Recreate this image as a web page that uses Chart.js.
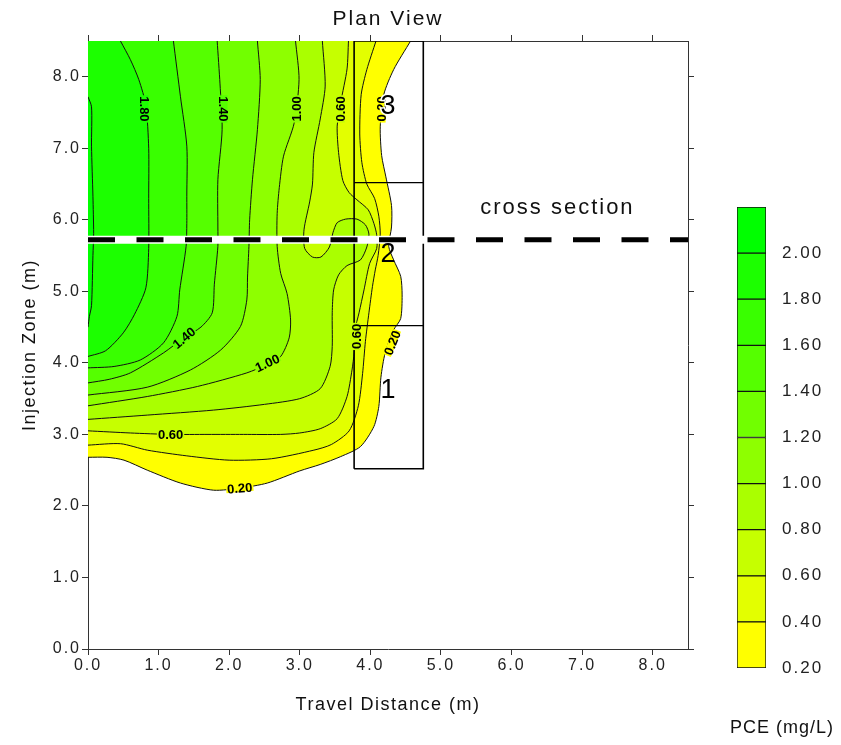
<!DOCTYPE html>
<html>
<head>
<meta charset="utf-8">
<script src="https://cdn.jsdelivr.net/npm/chart.js@4.4.0/dist/chart.umd.min.js"></script>
<style>
body { margin: 0; background: #fff; width: 841px; height: 745px; overflow: hidden; position: relative; }
#plan { position: absolute; left: 0; top: 0; }
#bar { position: absolute; left: 737px; top: 187px; }
</style>
</head>
<body>
<canvas id="plan" width="841" height="745"></canvas>
<canvas id="bar" width="89" height="501"></canvas>
<script>
// contour levels of PCE (mg/L) and the colour of the band above each one
const levels = [0.2, 0.4, 0.6, 0.8, 1.0, 1.2, 1.4, 1.6, 1.8, 2.0]
const bandColors = ['#ffff00', '#e3ff00', '#c6ff00', '#aaff00', '#8eff00', '#71ff00', '#55ff00', '#39ff00', '#1cff00', '#00ff00']

const pce020 = [[4.57,8.5],[4.33,8.1],[4.19,7.75],[4.14,7.3],[4.16,6.9],[4.22,6.6],[4.30,6.2],[4.30,5.9],[4.26,5.63],[4.33,5.44],[4.43,5.21],[4.45,4.95],[4.43,4.62],[4.33,4.46],[4.21,4.14],[4.15,3.8],[4.12,3.39],[4.05,3.11],[3.86,2.83],[3.58,2.69],[3.29,2.58],[3.0,2.49],[2.54,2.32],[2.16,2.25],[1.78,2.22],[1.31,2.32],[0.84,2.50],[0.51,2.64],[0.27,2.68],[0,2.68]]
const pce040 = [[4.08,8.5],[3.95,8.1],[3.87,7.75],[3.85,7.2],[3.88,6.8],[3.95,6.5],[4.06,6.3],[4.12,6.05],[4.14,5.8],[4.11,5.5],[4.07,5.3],[4.03,5.07],[3.98,4.7],[3.93,4.3],[3.89,3.85],[3.83,3.4],[3.70,3.05],[3.45,2.86],[3.20,2.78],[2.6,2.66],[2.0,2.64],[1.4,2.7],[0.84,2.78],[0.46,2.87],[0,2.85]]
const pce060 = [[3.69,8.5],[3.67,8.11],[3.58,7.64],[3.53,7.31],[3.55,6.94],[3.61,6.55],[3.70,6.38],[3.81,6.28],[3.97,6.14],[4.05,5.95],[4.09,5.79],[4.09,5.6],[3.99,5.39],[3.91,5.02],[3.84,4.70],[3.78,4.45],[3.77,4.14],[3.74,3.9],[3.67,3.53],[3.53,3.22],[3.29,3.08],[3.0,3.02],[2.73,3.0],[2.2,3.0],[1.7,3.0],[1.17,3.0],[0.6,3.02],[0,3.05]]
const pce080 = [[3.32,8.5],[3.36,7.87],[3.29,7.41],[3.20,6.94],[3.18,6.5],[3.14,6.25],[3.06,5.86],[3.07,5.6],[3.18,5.48],[3.30,5.48],[3.42,5.62],[3.47,5.82],[3.53,5.96],[3.65,6.01],[3.81,6.01],[3.93,5.93],[3.98,5.8],[3.95,5.62],[3.86,5.44],[3.67,5.36],[3.55,5.23],[3.48,5.02],[3.46,4.70],[3.46,4.23],[3.43,3.95],[3.29,3.64],[3.0,3.5],[2.5,3.42],[1.78,3.34],[0.84,3.27],[0,3.21]]
const pce100 = [[2.94,8.5],[2.99,7.96],[2.92,7.35],[2.77,6.89],[2.71,6.45],[2.68,6.09],[2.68,5.63],[2.73,5.25],[2.82,4.97],[2.87,4.6],[2.85,4.35],[2.73,4.09],[2.54,3.98],[2.25,3.86],[1.55,3.67],[0.84,3.53],[0,3.40]]
const pce120 = [[2.40,8.5],[2.44,7.96],[2.40,7.26],[2.33,6.56],[2.29,6.0],[2.28,5.63],[2.26,5.2],[2.25,4.88],[2.16,4.51],[1.88,4.18],[1.45,3.90],[0.84,3.66],[0,3.55]]
const pce140 = [[1.83,8.5],[1.87,7.9],[1.90,7.26],[1.84,6.56],[1.84,5.9],[1.84,5.63],[1.79,5.1],[1.76,4.7],[1.60,4.5],[1.36,4.35],[1.07,4.14],[0.60,3.86],[0.3,3.77],[0,3.72]]
const pce160 = [[1.21,8.5],[1.31,7.72],[1.40,7.03],[1.40,6.33],[1.40,5.95],[1.39,5.63],[1.30,5.02],[1.26,4.65],[1.07,4.28],[0.74,4.04],[0.37,3.95],[0,3.93]]
const pce180 = [[0.46,8.5],[0.60,8.24],[0.72,7.96],[0.82,7.6],[0.86,7.0],[0.86,6.3],[0.86,5.6],[0.82,5.05],[0.66,4.68],[0.50,4.42],[0.25,4.17],[0,4.09]]
const pce200 = [[0,7.72],[0.05,7.58],[0.05,7.03],[0.07,6.33],[0.08,5.81],[0.07,5.5],[0.05,4.8],[0.02,4.65],[0,4.5]]
const contourLines = [pce020, pce040, pce060, pce080, pce100, pce120, pce140, pce160, pce180, pce200]

// contour labels
const labelText  = ['1.80', '1.40', '1.00', '0.60', '0.20', '1.40', '1.00', '0.60', '0.20', '0.60', '0.20']
const labelLevel = [1.8, 1.4, 1.0, 0.6, 0.2, 1.4, 1.0, 0.6, 0.2, 0.6, 0.2]
const labelX     = [0.80, 1.92, 2.95, 3.58, 4.16, 1.36, 2.54, 1.17, 2.15, 3.80, 4.31]
const labelY     = [7.55, 7.55, 7.55, 7.55, 7.55, 4.35, 4.00, 3.00, 2.25, 4.37, 4.28]
const labelAngle = [90, 90, -90, -90, -90, -40, -25, 0, -5, -90, -68]

// sampling zones and the cross section line
const zoneX = [3.77, 4.75]
const zoneY = [2.52, 4.52, 6.52, 8.5]
const zoneNames = ['1', '2', '3']
const zoneLabelY = [3.62, 5.51, 7.59]
const zoneLabelX = 4.25
const crossSectionY = 5.72

const axisTicks = [0, 1, 2, 3, 4, 5, 6, 7, 8]
const axisMax = 8.5

const pts = arr => arr.map(p => ({ x: p[0], y: p[1] }))

let datasets = []
// dashed cross section on a white band, drawn on top
datasets.push({ data: pts([[0, crossSectionY], [axisMax, crossSectionY]]), borderColor: '#000', borderWidth: 5, borderDash: [27, 21.5], order: 0 })
datasets.push({ data: pts([[0, crossSectionY], [axisMax, crossSectionY]]), borderColor: '#fff', borderWidth: 8, order: 1 })
// zone boxes
datasets.push({ data: pts([[zoneX[0], zoneY[0]], [zoneX[1], zoneY[0]], [zoneX[1], zoneY[3]], [zoneX[0], zoneY[3]], [zoneX[0], zoneY[0]]]), borderColor: '#000', borderWidth: 1.6, order: 2 })
datasets.push({ data: pts([[zoneX[0], zoneY[1]], [zoneX[1], zoneY[1]]]), borderColor: '#000', borderWidth: 1.3, order: 2 })
datasets.push({ data: pts([[zoneX[0], zoneY[2]], [zoneX[1], zoneY[2]]]), borderColor: '#000', borderWidth: 1.3, order: 2 })
// contours
contourLines.forEach((line, i) => {
    datasets.push({
        data: pts(line),
        borderColor: '#111',
        borderWidth: 1,
        tension: 0.25,
        fillColor: bandColors[i],
        toCorner: i < 9,
        order: 10
    })
})

//fill the area above each level, lowest first
const bandFill = {
    id: 'bandFill',
    beforeDatasetsDraw(chart) {
        const ctx = chart.ctx
        const a = chart.chartArea
        const xs = chart.scales.x, ys = chart.scales.y
        ctx.save()
        ctx.beginPath()
        ctx.rect(a.left, a.top, a.right - a.left, a.bottom - a.top)
        ctx.clip()
        chart.data.datasets.forEach((ds, i) => {
            if (!ds.fillColor) return
            const line = chart.getDatasetMeta(i).dataset
            line.updateControlPoints(a, 'x')
            ctx.beginPath()
            line.path(ctx)
            if (ds.toCorner) ctx.lineTo(xs.getPixelForValue(0), ys.getPixelForValue(axisMax))
            ctx.closePath()
            ctx.fillStyle = ds.fillColor
            ctx.fill()
        })
        ctx.restore()
    }
}

const spacing = {
    id: 'spacing',
    beforeDraw(chart, args, opts) {
        chart.ctx.letterSpacing = opts.gap || '0px'
    }
}

const texts = {
    id: 'texts',
    afterDatasetsDraw(chart) {
        const ctx = chart.ctx
        const a = chart.chartArea
        const xs = chart.scales.x, ys = chart.scales.y
        ctx.save()
        ctx.textAlign = 'center'
        ctx.textBaseline = 'middle'

        //contour labels with a small gap in the line
        ctx.font = 'bold 13px "Liberation Sans"'
        ctx.letterSpacing = '0px'
        for (let i = 0; i < labelText.length; i++) {
            ctx.save()
            ctx.translate(xs.getPixelForValue(labelX[i]), ys.getPixelForValue(labelY[i]))
            ctx.rotate(labelAngle[i] * Math.PI / 180)
            const w = ctx.measureText(labelText[i]).width
            ctx.fillStyle = bandColors[levels.indexOf(labelLevel[i])]
            ctx.fillRect(-w / 2 - 1, -4, w + 2, 8)
            ctx.fillStyle = '#000'
            ctx.fillText(labelText[i], 0, 1)
            ctx.restore()
        }

        //zone numbers
        ctx.font = '27px "Liberation Sans"'
        zoneNames.forEach((n, i) => {
            const px = xs.getPixelForValue(zoneLabelX), py = ys.getPixelForValue(zoneLabelY[i])
            if (i === 2) {
                ctx.strokeStyle = '#fff'
                ctx.lineWidth = 3
                ctx.strokeText(n, px, py)
            }
            ctx.fillStyle = '#000'
            ctx.fillText(n, px, py)
        })

        ctx.fillStyle = '#111'
        ctx.font = '22px "Liberation Sans"'
        ctx.letterSpacing = '2px'
        ctx.fillText('cross section', xs.getPixelForValue(6.65), ys.getPixelForValue(6.17))

        ctx.font = '21px "Liberation Sans"'
        ctx.fillText('Plan View', (a.left + a.right) / 2, a.top - 22)

        ctx.font = '18px "Liberation Sans"'
        ctx.letterSpacing = '1.5px'
        ctx.fillText('Travel Distance (m)', (a.left + a.right) / 2, a.bottom + 56)
        ctx.save()
        ctx.translate(a.left - 58, (a.top + a.bottom) / 2)
        ctx.rotate(-Math.PI / 2)
        ctx.fillText('Injection Zone (m)', 0, 0)
        ctx.restore()

        ctx.letterSpacing = '1px'
        ctx.fillText('PCE (mg/L)', 782, 728)
        ctx.restore()
    }
}

const fixTicks = s => { s.ticks = axisTicks.map(v => ({ value: v })) }
const tickFont = { family: 'Liberation Sans', size: 16 }

function axis(position, size, showLabels) {
    return {
        type: 'linear',
        position: position,
        min: 0,
        max: axisMax,
        afterBuildTicks: fixTicks,
        afterFit: s => {
            if (position === 'left' || position === 'right') s.width = size
            else s.height = size
        },
        grid: { drawOnChartArea: false, tickLength: 6, color: '#333', lineWidth: 1 },
        border: { color: '#333', width: 1 },
        ticks: {
            display: showLabels,
            padding: 1,
            color: '#222',
            font: tickFont,
            maxRotation: 0,
            autoSkip: false,
            callback: v => v.toFixed(1)
        }
    }
}

new Chart(document.getElementById('plan'), {
    type: 'line',
    data: { datasets: datasets },
    options: {
        responsive: false,
        animation: false,
        events: [],
        layout: { padding: 0 },
        elements: { point: { radius: 0 } },
        plugins: { legend: { display: false }, tooltip: { enabled: false }, spacing: { gap: '2px' } },
        scales: {
            x: axis('bottom', 96, true),
            x2: axis('top', 41, false),
            y: axis('left', 88, true),
            y2: axis('right', 153, false)
        }
    },
    plugins: [spacing, bandFill, texts]
})

// colour scale
new Chart(document.getElementById('bar'), {
    type: 'bar',
    data: {
        labels: ['PCE'],
        datasets: levels.map((lv, i) => ({
            data: [[lv, lv + 0.2]],
            backgroundColor: bandColors[i],
            borderColor: '#111',
            borderWidth: 1,
            borderSkipped: false,
            grouped: false,
            barPercentage: 1,
            categoryPercentage: 1
        }))
    },
    options: {
        responsive: false,
        animation: false,
        events: [],
        layout: { padding: { top: 20, bottom: 20, left: 0, right: 0 } },
        plugins: { legend: { display: false }, tooltip: { enabled: false }, spacing: { gap: '2px' } },
        scales: {
            x: { display: false },
            y: {
                position: 'right',
                min: 0.2,
                max: 2.2,
                afterBuildTicks: s => { s.ticks = levels.map(v => ({ value: v })) },
                afterFit: s => { s.width = 60 },
                grid: { display: false },
                border: { display: false },
                ticks: { padding: 8, color: '#222', font: { family: 'Liberation Sans', size: 17 }, callback: v => v.toFixed(2) }
            }
        }
    },
    plugins: [spacing]
})
</script>
</body>
</html>
